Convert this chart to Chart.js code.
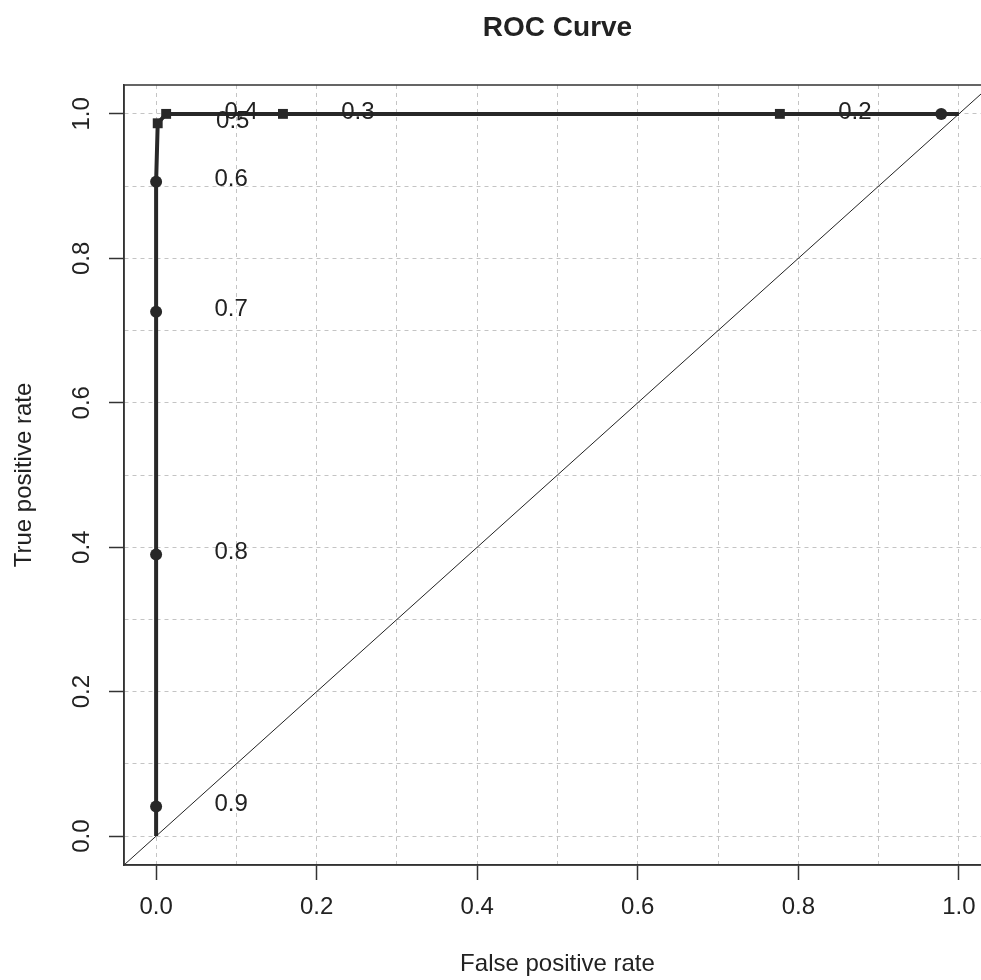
<!DOCTYPE html>
<html lang="en">
<head>
<meta charset="UTF-8">
<title>ROC Curve</title>
<style>
  html, body { margin: 0; padding: 0; background: #fff; overflow: hidden; }
  canvas { display: block; }
</style>
</head>
<body>
<canvas id="rocChart" width="1000" height="980"></canvas>
<script src="https://cdn.jsdelivr.net/npm/chart.js"></script>
<script>
// ROC points
var fpr = [0, 0, 0, 0, 0, 0.002, 0.0125, 0.158, 0.777, 0.978, 1];
var tpr = [0, 0.041, 0.390, 0.726, 0.906, 0.987, 1, 1, 1, 1, 1];
// cutoff printed next to each point (0.1 falls off the right edge)
var cutoffs = [null, '0.9', '0.8', '0.7', '0.6', '0.5', '0.4', '0.3', '0.2', null, null];
var markers = ['none', 'circle', 'circle', 'circle', 'circle', 'rect', 'rect', 'rect', 'rect', 'circle', 'none'];

var gridValues = [0, 0.1, 0.2, 0.3, 0.4, 0.5, 0.6, 0.7, 0.8, 0.9, 1.0];
var tickLabels = ['0.0', '0.2', '0.4', '0.6', '0.8', '1.0'];
var diagonal = [-0.1, 1.1];

var fontFamily = '"Liberation Sans", Arial, Helvetica, sans-serif';
var inkColor = '#222';

function labelFor(v) {
    for (var i = 0; i < tickLabels.length; i++) {
        if (Math.abs(parseFloat(tickLabels[i]) - v) < 1e-6) return tickLabels[i];
    }
    return '';
}

var rocPoints = fpr.map(function(x, i) { return {x: x, y: tpr[i]}; });
var diagPoints = diagonal.map(function(v) { return {x: v, y: v}; });

// box, cutoff labels and rotated y tick labels
var extras = {
    id: 'extras',
    afterDatasetsDraw: function(chart) {
        var ctx = chart.ctx, a = chart.chartArea;
        var xs = chart.scales.x, ys = chart.scales.y;
        ctx.save();
        ctx.strokeStyle = '#333';
        ctx.lineWidth = 1.5;
        ctx.strokeRect(a.left, a.top, a.right - a.left, a.bottom - a.top);

        ctx.fillStyle = inkColor;
        ctx.font = '24px ' + fontFamily;
        ctx.textAlign = 'center';
        ctx.textBaseline = 'middle';
        cutoffs.forEach(function(c, i) {
            if (!c) return;
            ctx.fillText(c, xs.getPixelForValue(fpr[i]) + 75, ys.getPixelForValue(tpr[i]) - 2);
        });

        tickLabels.forEach(function(t) {
            var py = ys.getPixelForValue(parseFloat(t));
            ctx.save();
            ctx.translate(82, py);
            ctx.rotate(-Math.PI / 2);
            ctx.fillText(t, 0, 0);
            ctx.restore();
        });
        ctx.restore();
    }
};

function gridOpts() {
    return {
        color: '#c4c4c4',
        lineWidth: 1,
        tickLength: 15,
        tickWidth: 1.5,
        tickColor: function(c) {
            return labelFor(c.tick.value) ? '#333' : 'rgba(0,0,0,0)';
        }
    };
}

new Chart(document.getElementById('rocChart'), {
    type: 'scatter',
    data: {
        datasets: [{
            label: 'ROC',
            data: rocPoints,
            showLine: true,
            borderColor: '#282828',
            borderWidth: 4,
            tension: 0,
            pointStyle: markers.map(function(m) { return m === 'none' ? 'circle' : m; }),
            pointRadius: markers.map(function(m) { return m === 'none' ? 0 : (m === 'rect' ? 7 : 6); }),
            pointBackgroundColor: '#282828',
            pointBorderWidth: 0,
            order: 2
        }, {
            label: 'chance',
            data: diagPoints,
            showLine: true,
            borderColor: '#222',
            borderWidth: 1,
            pointRadius: 0,
            order: 1
        }]
    },
    options: {
        responsive: false,
        animation: false,
        devicePixelRatio: 1,
        layout: { padding: { top: 0, right: 9, bottom: 0, left: 0 } },
        plugins: {
            legend: { display: false },
            tooltip: { enabled: false },
            title: {
                display: true,
                text: 'ROC Curve',
                fullSize: false,
                color: inkColor,
                font: { family: fontFamily, size: 28, weight: 'bold' },
                padding: { top: 11.2, bottom: 40.2 }
            }
        },
        scales: {
            x: {
                type: 'linear',
                min: -0.04,
                max: 1.04,
                afterBuildTicks: function(s) { s.ticks = gridValues.map(function(v) { return {value: v}; }); },
                afterFit: function(s) { s.height = 115; },
                grid: gridOpts(),
                border: { display: true, color: '#333', width: 1.5, dash: [4, 4] },
                ticks: {
                    autoSkip: false,
                    maxRotation: 0,
                    padding: 13,
                    color: inkColor,
                    font: { family: fontFamily, size: 24 },
                    callback: function(v) { return labelFor(v); }
                },
                title: {
                    display: true,
                    text: 'False positive rate',
                    color: inkColor,
                    font: { family: fontFamily, size: 24 },
                    padding: { top: 0, bottom: 1 }
                }
            },
            y: {
                type: 'linear',
                min: -0.04,
                max: 1.04,
                afterBuildTicks: function(s) { s.ticks = gridValues.map(function(v) { return {value: v}; }); },
                afterFit: function(s) { s.width = 124; },
                grid: gridOpts(),
                border: { display: true, color: '#333', width: 1.5, dash: [4, 4] },
                ticks: { display: false },
                title: {
                    display: true,
                    text: 'True positive rate',
                    color: inkColor,
                    font: { family: fontFamily, size: 24 },
                    padding: { top: 9.6, bottom: 0 }
                }
            }
        }
    },
    plugins: [extras]
});
</script>
</body>
</html>
